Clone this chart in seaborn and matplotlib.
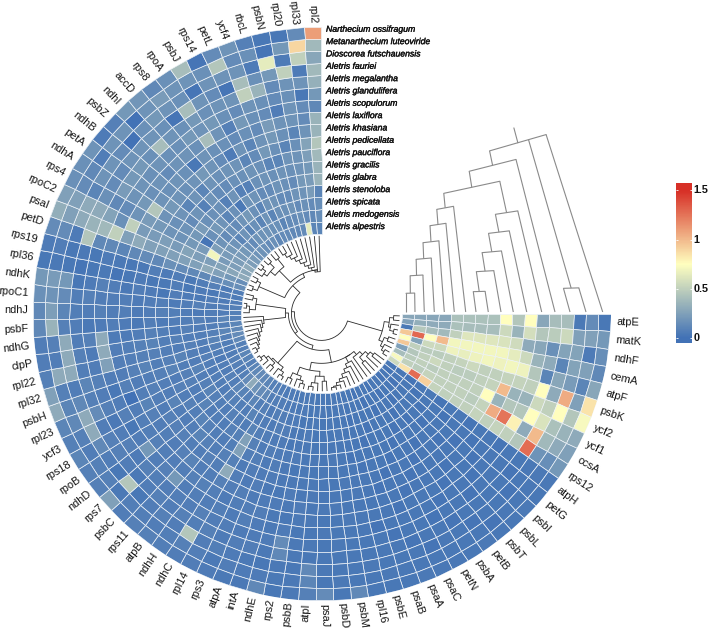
import numpy as np
import pandas as pd
import matplotlib
matplotlib.use("Agg")
import matplotlib.pyplot as plt
import matplotlib.patheffects as pe
import seaborn as sns

# Genes, clockwise from the horizontal boundary of the ring
genes = ["atpE","matK","ndhF","cemA","atpF","psbK","ycf2","ycf1","ccsA","rps12",
         "atpH","petG","psbI","psbL","psbT","petB","psbA","petN","psaC","psaA",
         "psaB","psbE","rpl16","psbM","psbD","psaJ","atpI","psbB","rps2","ndhE",
         "intA","atpA","rps3","rpl14","ndhC","ndhH","atpB","rps11","psbC","rps7",
         "ndhD","rpoB","rps18","ycf3","rpl23","psbH","rpl32","rpl22","clpP","ndhG",
         "psbF","ndhJ","rpoC1","ndhK","rpl36","rps19","petD","psaI","rpoC2","rps4",
         "ndhA","petA","ndhB","psbZ","ndhI","accD","rps8","rpoA","psbJ","rps14",
         "petL","ycf4","rbcL","psbN","rpl20","rpl33","rpl2"]

# Species, outermost ring first
species = ["Narthecium ossifragum","Metanarthecium luteoviride","Dioscorea futschauensis",
           "Aletris fauriei","Aletris megalantha","Aletris glandulifera","Aletris scopulorum",
           "Aletris laxiflora","Aletris khasiana","Aletris pedicellata","Aletris pauciflora",
           "Aletris gracilis","Aletris glabra","Aletris stenoloba","Aletris spicata",
           "Aletris medogensis","Aletris alpestris"]

# Values x100 per gene, innermost ring (last species) first
heat_columns = [
 [28,28,28,28,42,42,42,42,75,45,75,28,40,40,4,14,3],
 [25,32,30,30,42,40,40,40,55,35,58,45,48,55,25,25,20],
 [4,46,40,38,50,62,62,62,60,56,30,28,16,26,26,5,15],
 [95,130,75,100,70,70,70,70,70,65,55,35,30,10,26,25,12],
 [75,26,55,55,68,66,68,70,68,70,68,45,10,28,22,10,28],
 [95,50,48,48,50,52,55,50,50,52,52,50,75,30,105,25,85],
 [25,45,50,55,50,48,48,50,52,100,35,35,55,50,75,45,72],
 [40,48,50,48,50,50,50,50,75,35,45,45,75,60,42,35,30],
 [72,50,48,52,50,50,50,48,52,105,125,80,30,100,38,30,25],
 [55,85,128,92,52,50,50,50,52,50,52,50,45,128,18,15,20],
 [3,3,2,3,3,2,3,3,2,3,3,2,3,3,3,4,4],
 [2,3,3,2,3,3,2,3,3,2,3,3,3,2,3,3,3],
 [3,2,3,3,2,3,3,3,2,3,2,3,3,3,2,3,4],
 [2,3,3,3,3,2,3,2,3,3,3,2,3,3,3,3,3],
 [3,3,2,3,2,3,3,3,3,2,3,3,2,3,3,2,3],
 [3,2,3,2,3,3,2,3,3,3,2,3,3,3,2,3,4],
 [2,3,3,3,2,3,3,2,3,3,3,2,3,2,3,3,3],
 [3,3,2,3,3,2,3,3,2,3,3,3,2,3,3,3,3],
 [3,2,3,3,3,3,2,3,3,2,3,3,3,3,2,3,3],
 [2,3,3,2,3,3,3,2,3,3,2,3,3,2,3,3,4],
 [3,3,3,3,2,3,3,3,2,3,3,3,2,3,3,3,3],
 [3,3,2,3,3,3,2,3,3,3,3,2,3,3,3,4,3],
 [3,4,3,3,3,2,3,3,4,3,3,3,3,3,4,3,3],
 [4,3,3,4,3,3,3,4,3,3,4,3,3,3,3,3,12],
 [3,3,4,3,3,4,3,3,3,4,3,3,4,3,3,4,3],
 [4,4,3,3,4,3,4,3,3,4,3,4,3,3,4,3,14],
 [3,4,4,3,3,4,3,4,4,3,4,3,4,3,12,10,8],
 [4,3,4,5,4,3,4,4,3,5,4,3,4,4,3,4,4],
 [4,5,3,4,4,5,3,4,5,4,3,5,14,12,4,4,3],
 [4,4,5,4,3,5,4,4,3,5,4,4,5,4,3,5,12],
 [4,5,5,6,5,5,6,5,4,5,6,5,5,6,4,5,4],
 [5,5,6,7,5,6,5,5,6,5,6,7,5,6,5,6,4],
 [5,6,7,5,6,5,7,6,5,7,6,5,6,5,7,4,5],
 [6,7,5,6,7,8,6,5,7,6,5,7,6,8,6,7,6],
 [8,7,8,6,9,25,25,8,30,8,7,6,8,7,45,8,6],
 [8,12,7,9,6,8,7,8,7,6,8,7,6,8,6,7,7],
 [10,14,10,6,7,8,6,7,8,6,8,6,7,6,8,6,8],
 [12,18,8,7,8,6,7,8,6,9,7,20,6,8,6,7,8],
 [14,30,9,8,6,7,8,9,7,8,6,8,7,6,3,7,6],
 [12,14,10,8,7,6,9,7,8,6,7,6,8,4,45,4,25],
 [10,8,7,6,8,9,7,6,8,7,8,20,5,6,3,8,8],
 [8,6,8,7,9,6,8,6,8,6,7,6,8,8,6,8,8],
 [9,8,6,7,8,6,7,9,6,8,7,3,6,8,12,6,10],
 [10,8,7,6,7,8,8,6,7,9,6,8,4,6,30,8,8],
 [8,6,5,7,9,8,6,7,8,7,0,6,8,14,30,12,10],
 [8,6,7,8,6,7,9,8,7,6,8,3,6,8,12,10,30],
 [12,7,8,6,7,9,8,7,9,8,6,6,8,10,6,8,25],
 [14,8,9,7,8,6,7,8,8,7,7,25,6,7,30,30,8],
 [12,10,8,7,6,8,7,9,8,7,6,30,5,8,30,6,6],
 [10,8,7,6,8,5,7,8,6,5,5,30,8,6,30,8,6],
 [8,10,6,8,7,6,5,7,4,5,6,5,4,6,8,35,12],
 [8,6,7,5,6,7,8,6,5,7,6,8,6,7,10,24,12],
 [8,7,6,8,6,5,7,6,5,7,6,6,8,7,14,18,16],
 [6,5,6,4,5,6,3,5,6,4,6,8,5,3,20,22,20],
 [5,6,4,5,3,6,4,3,5,3,2,4,3,2,3,4,3],
 [6,5,8,6,4,6,5,7,4,3,4,5,3,4,3,6,5],
 [15,15,14,12,12,14,16,12,14,12,10,12,12,45,5,14,14],
 [15,20,25,30,25,25,25,25,25,30,25,50,38,35,30,25,32],
 [30,28,26,24,24,26,22,24,22,22,50,16,26,30,30,25,25],
 [28,24,22,70,22,20,18,18,20,22,18,14,12,16,10,14,16],
 [30,24,22,24,2,20,18,16,18,45,20,18,22,14,18,12,16],
 [24,22,20,18,16,22,14,18,20,18,16,18,20,14,18,6,18],
 [22,20,18,14,20,16,18,10,18,16,18,16,20,18,14,18,5],
 [18,16,10,16,18,16,8,18,16,18,14,18,16,18,0,18,8],
 [18,14,18,14,10,16,18,10,18,16,18,16,40,18,16,0,20],
 [16,18,10,18,16,8,14,18,20,3,18,16,18,16,20,18,19],
 [14,18,16,20,4,18,14,16,18,18,16,20,16,2,18,22,12],
 [16,18,10,16,18,8,16,18,14,16,40,18,20,40,16,18,16],
 [12,16,18,10,18,8,16,18,5,16,18,20,16,18,2,18,40],
 [14,16,10,18,14,16,18,10,18,14,8,16,18,14,18,16,2],
 [14,10,16,18,14,18,16,14,10,16,20,14,18,2,18,45,14],
 [12,14,16,14,18,16,10,20,18,14,16,18,50,40,18,14,18],
 [12,14,18,14,16,18,10,16,20,22,14,16,35,16,5,16,8],
 [14,16,14,18,14,16,18,10,16,18,6,14,14,20,65,2,3],
 [65,14,16,18,20,18,18,16,10,18,18,16,18,50,5,20,3],
 [10,12,14,22,22,20,24,26,18,14,14,3,18,5,50,90,14],
 [10,15,15,10,35,35,38,45,35,35,12,20,33,38,28,38,110],
]

# Gene clustering: (merge radius, child, child, ...), integers are gene positions
gene_tree_a = (63, (68, (72, 0, 1), (70, 2, (74, 3, 4))), (67, (71, 5, 6), (70, 7, (73, 8, 9))))
gene_tree_b1 = (50, (54, (58, (62, (66, 10, 11), 12), (64, 13, 14)), 15),
                (53, (56, 16, (60, 17, (64, 18, (68, 19, (71, 20, (74, 21, (75, 22, 23)))))))))
gene_tree_b2 = (58, (63, (68, 24, 25), (70, 26, (74, 27, 28))), (66, (70, (73, 29, 30), 31), (72, 32, 33)))
gene_tree_c = (66, (70, (74, 34, 35), 36), (68, (72, 37, 38), (71, 39, (75, 40, 41))))
gene_tree_d = (58, 50, (60, 49, (62, 48, (65, 47, (67, 46, (69, 45, (71, 44, (74, 43, 42))))))))
gene_tree_e = (66, (72, 51, (75, 52, 53)), (70, 54, 55))
gene_tree_f1 = (68, (73, 56, 57), (72, 58, 59))
gene_tree_f2 = (60, (66, (70, 60, (74, 61, 62)), (72, 63, 64)), (70, 65, 66))
gene_tree_f3 = (42, 76, (44, 75, (47, 74, (50, 73, (54, 72, (58, 71, (62, 70, (66, 69, (70, 67, 68)))))))))
gene_tree = (27, gene_tree_a,
             (30, (33, (37, (50, gene_tree_b1, gene_tree_b2), gene_tree_c), (36, gene_tree_d, gene_tree_e)),
              (40, gene_tree_f1, (44, gene_tree_f2, gene_tree_f3))))

# Species clustering, leaves numbered from the innermost ring outwards
species_leaf_offsets = [0, 9, 18.3, 28.3, 38.3, 48.3, 59.7, 70, 82.3, 95, 107.3, 120.7, 135.7, 149, 164, 180, 196.7]
species_left = (97, (82.7, (67.3, (51.8, (36, (18.7, 0, 1), 2), 3), 4), 5), 6)
species_right = (84, (68.7, (52.6, (36.2, (18.4, 7, 8), 9), 10), 11), 12)
species_tree = (137, (124.7, (110.5, species_left, species_right), 13), (19, 14, 15), 16)
species_stem_top = 149

colorbar_ticks = [0, 0.5, 1, 1.5]

sns.set_theme(style="white")
plt.rcParams["font.family"] = ["Liberation Sans", "DejaVu Sans"]

W, H = 709, 628
CX, CY, RX, RY = 321.5, 313.5, 289, 287
R_OUT, R_IN, LEAF_R = 288, 80, 78
fig = plt.figure(figsize=(W / 100, H / 100), dpi=100, facecolor="white")
cmap = sns.blend_palette(["#4272b6", "#ffffbf", "#d73027"], as_cmap=True)

values = pd.DataFrame(np.array(heat_columns).T / 100, columns=genes, index=species[::-1])
n_genes, n_species = len(genes), len(species)
theta_edges = np.deg2rad(np.linspace(0, 270, n_genes + 1))
radius_edges = np.linspace(R_IN, R_OUT, n_species + 1)
theta_mid = 0.5 * (theta_edges[:-1] + theta_edges[1:])

ax = fig.add_axes([(CX - RX) / W, (H - CY - RY) / H, 2 * RX / W, 2 * RY / H], projection="polar")
ax.set_aspect("auto")
ax.set_theta_zero_location("E")
ax.set_theta_direction(-1)
ax.pcolormesh(theta_edges, radius_edges, values.values, cmap=cmap, vmin=0, vmax=1.5,
              edgecolors="#edf2f7", linewidth=0.5, antialiased=True)
ax.set_ylim(0, R_OUT)
ax.grid(False)
ax.set_xticks([])
ax.set_yticks([])
ax.spines["polar"].set_visible(False)
ax.patch.set_alpha(0)

# Gene names along the rim, flipped on the left half so they stay readable
for th, gene in zip(theta_mid, genes):
    deg = np.rad2deg(th)
    gap = 3 + 3.5 * max(np.cos(th), 0) + 1.5 * max(-np.cos(th), 0)
    if deg <= 90:
        ax.text(th, R_OUT + gap, gene, rotation=-deg, ha="left", va="center",
                rotation_mode="anchor", fontsize=7.9, color="#141414", clip_on=False)
    else:
        ax.text(th, R_OUT + gap, gene, rotation=180 - deg, ha="right", va="center",
                rotation_mode="anchor", fontsize=7.9, color="#141414", clip_on=False)


def draw_gene_node(node):
    """Draw one clade of the polar gene tree and return its angle and radius."""
    if isinstance(node, int):
        return theta_mid[node], LEAF_R
    r = node[0]
    kids = [draw_gene_node(k) for k in node[1:]]
    angles = [k[0] for k in kids]
    for a, kr in kids:
        ax.plot([a, a], [r, kr], color="#2a2a2a", lw=0.6, solid_capstyle="butt")
    arc = np.linspace(min(angles), max(angles), 24)
    ax.plot(arc, np.full_like(arc, r), color="#2a2a2a", lw=0.6)
    return 0.5 * (min(angles) + max(angles)), r


draw_gene_node(gene_tree)

# Species tree in the open quadrant, fanned slightly towards the top
overlay = fig.add_axes([0, 0, 1, 1])
overlay.set_xlim(0, W)
overlay.set_ylim(H, 0)
overlay.axis("off")
overlay.patch.set_alpha(0)


def fan(u, h):
    return 406 + u * (1 - 0.0021 * h), 312 - h * (1 + 0.0015 * u)


def draw_species_node(node):
    """Draw one clade of the species tree and return its offset and height."""
    if isinstance(node, int):
        return species_leaf_offsets[node], 0
    h = node[0]
    kids = [draw_species_node(k) for k in node[1:]]
    offsets = [k[0] for k in kids]
    for u, kh in kids:
        xs, ys = zip(fan(u, kh), fan(u, h))
        overlay.plot(xs, ys, color="#8a8a8a", lw=0.8, solid_capstyle="butt")
    xs, ys = zip(fan(min(offsets), h), fan(max(offsets), h))
    overlay.plot(xs, ys, color="#8a8a8a", lw=0.8)
    return 0.5 * (min(offsets) + max(offsets)), h


root_u, root_h = draw_species_node(species_tree)
xs, ys = zip(fan(root_u, root_h), fan(root_u, species_stem_top))
overlay.plot(xs, ys, color="#8a8a8a", lw=0.8)

# Species names beside the last gene column
for i, name in enumerate(species):
    overlay.text(326, 29.3 + i * 12.33, name, style="italic", fontsize=6.25, va="center", ha="left", color="#111111",
                 path_effects=[pe.withStroke(linewidth=0.25, foreground="#111111")])

# Colour key
bar_low, bar_high = -0.048, 1.575
cax = fig.add_axes([676 / W, (H - 343) / H, 16 / W, 160 / H])
gradient = np.linspace(bar_high, bar_low, 160).reshape(-1, 1)
sns.heatmap(gradient, ax=cax, cmap=cmap, vmin=0, vmax=1.5, cbar=False, xticklabels=False, yticklabels=False)
cax.set_xlabel("")
cax.set_ylabel("")
for v in colorbar_ticks:
    pos = (bar_high - v) / (bar_high - bar_low) * 160
    cax.hlines(pos, 0, 0.12, color="white", lw=0.6)
    cax.hlines(pos, 0.88, 1, color="white", lw=0.6)
    cax.text(1.1, pos, f"{v:g}", va="center", ha="left", fontsize=7.8, weight="bold",
             color="#111111", clip_on=False)

fig.savefig("out.png", dpi=100, facecolor="white")
